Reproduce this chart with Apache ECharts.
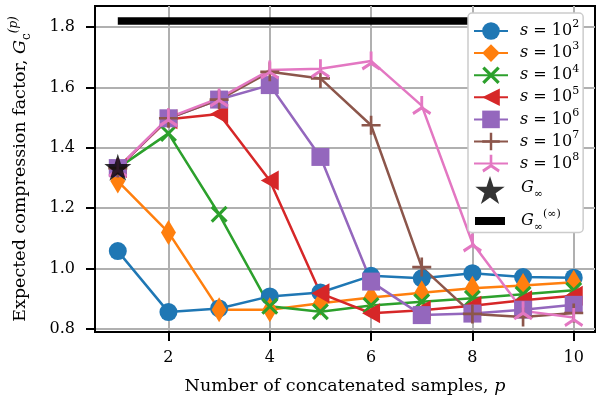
<!DOCTYPE html>
<html><head><meta charset="utf-8">
<script src="https://cdn.jsdelivr.net/npm/echarts@6/dist/echarts.min.js"></script>
<style>html,body{margin:0;padding:0;background:#fff}#c{width:597px;height:401px}</style>
</head><body><div id="c"></div>
<script>
// ---- data ----
const pValues = [1, 2, 3, 4, 5, 6, 7, 8, 9, 10];
const s1e2 = [1.058, 0.856, 0.868, 0.908, 0.921, 0.976, 0.968, 0.985, 0.972, 0.970];
const s1e3 = [1.290, 1.120, 0.864, 0.864, 0.885, 0.904, 0.920, 0.935, 0.944, 0.955];
const s1e4 = [1.333, 1.448, 1.180, 0.875, 0.857, 0.878, 0.890, 0.902, 0.915, 0.928];
const s1e5 = [1.333, 1.495, 1.512, 1.292, 0.918, 0.852, 0.862, 0.877, 0.895, 0.910];
const s1e6 = [1.333, 1.498, 1.560, 1.608, 1.370, 0.957, 0.846, 0.851, 0.864, 0.880];
const s1e7 = [1.333, 1.498, 1.560, 1.652, 1.630, 1.475, 1.005, 0.850, 0.840, 0.853];
const s1e8 = [1.333, 1.500, 1.565, 1.658, 1.662, 1.688, 1.540, 1.085, 0.860, 0.838];
const gInfP = [1];
const gInfV = [1.336];
const gInfInfP = [1, 10];
const gInfInfV = [1.82, 1.82];
const seriesNames = ['s = 10^2', 's = 10^3', 's = 10^4', 's = 10^5', 's = 10^6', 's = 10^7', 's = 10^8'];
const seriesExp = ['2', '3', '4', '5', '6', '7', '8'];
const xTicks = [2, 4, 6, 8, 10];
const yTicks = [0.8, 1.0, 1.2, 1.4, 1.6, 1.8];

// ---- styles ----
const FONT = 'DejaVu Serif';
const colors = ['#1f77b4', '#ff7f0e', '#2ca02c', '#d62728', '#9467bd', '#8c564b', '#e377c2'];

function armsPath(anglesDeg, len, h) {
  const c = len + h;
  let d = '';
  anglesDeg.forEach(a => {
    const r = a * Math.PI / 180;
    const dx = Math.cos(r), dy = Math.sin(r);
    const nx = -dy, ny = dx;
    const sx = c - h * dx, sy = c - h * dy;
    const ex = c + len * dx, ey = c + len * dy;
    const pts = [[sx + h * nx, sy + h * ny], [ex + h * nx, ey + h * ny], [ex - h * nx, ey - h * ny], [sx - h * nx, sy - h * ny]];
    d += 'M' + pts.map(p => p[0].toFixed(3) + ',' + p[1].toFixed(3)).join('L') + 'Z';
  });
  return 'path://' + d;
}
function starPath() {
  const pts = [];
  for (let i = 0; i < 10; i++) {
    const r = (i % 2 === 0) ? 10 : 3.82;
    const a = -Math.PI / 2 + i * Math.PI / 5;
    pts.push([10 + r * Math.cos(a), 10 + r * Math.sin(a)]);
  }
  return 'path://M' + pts.map(p => p[0].toFixed(3) + ',' + p[1].toFixed(3)).join('L') + 'Z';
}
const xMark = armsPath([45, 135, 225, 315], 10, 1.5);
const plusMark = armsPath([0, 90, 180, 270], 10, 1.4);
const triUpMark = armsPath([-90, 30, 150], 10, 1.4);
const STAR = starPath();

const symbols = [
  {symbol: 'circle', size: 18, rotate: 0},
  {symbol: 'diamond', size: [15, 25], rotate: 0},
  {symbol: xMark, size: 17, rotate: 0},
  {symbol: 'triangle', size: [20, 18], rotate: 90},
  {symbol: 'rect', size: 18, rotate: 0},
  {symbol: plusMark, size: 19, rotate: 0},
  {symbol: triUpMark, size: 19, rotate: 0}
];
const allValues = [s1e2, s1e3, s1e4, s1e5, s1e6, s1e7, s1e8];

function makeRich(fs, sfs, lead) {
  return {
    n: {fontFamily: FONT, fontSize: fs, color: '#000', verticalAlign: 'bottom', padding: [0, 0, 4, 0]},
    i: {fontFamily: FONT, fontSize: fs, color: '#000', fontStyle: 'italic', verticalAlign: 'bottom', padding: [0, 0, 4, 0]},
    i0: {fontFamily: FONT, fontSize: fs, color: '#000', fontStyle: 'italic', verticalAlign: 'bottom', padding: [0, 0, 4, lead]},
    sup: {fontFamily: FONT, fontSize: sfs, color: '#000', verticalAlign: 'bottom', padding: [0, 0, 13, 0]},
    supi: {fontFamily: FONT, fontSize: sfs, color: '#000', fontStyle: 'italic', verticalAlign: 'bottom', padding: [0, 0, 13, 0]},
    sub: {fontFamily: FONT, fontSize: sfs, color: '#000', verticalAlign: 'bottom', padding: [0, 0, 0, 0]}
  };
}
const richLegend = makeRich(16, 11, 7);
const richLegend2 = makeRich(16, 11, 11);
const richName = makeRich(17.5, 12, 0);

const series = allValues.map((vals, k) => ({
  name: seriesNames[k],
  type: 'line',
  data: pValues.map((p, j) => [p, vals[j]]),
  symbol: symbols[k].symbol,
  symbolSize: symbols[k].size,
  symbolRotate: symbols[k].rotate,
  showAllSymbol: true,
  color: colors[k],
  lineStyle: {width: 2.5, color: colors[k]},
  itemStyle: {color: colors[k]},
  emphasis: {disabled: true},
  z: 2
}));
series.push({
  name: 'G_inf',
  type: 'scatter',
  data: gInfP.map((p, j) => [p, gInfV[j]]),
  symbol: STAR,
  symbolSize: 27,
  itemStyle: {color: '#000'},
  color: '#000',
  z: 3
});
series.push({
  name: 'G_inf_inf',
  type: 'line',
  data: gInfInfP.map((p, j) => [p, gInfInfV[j]]),
  symbol: 'none',
  lineStyle: {width: 7.5, color: '#000', cap: 'butt'},
  itemStyle: {color: '#000'},
  color: '#000',
  z: 3
});

const legendText = {};
seriesNames.forEach((n, k) => { legendText[n] = '{i0|s}{n| = 10}{sup|' + seriesExp[k] + '}'; });
legendText['G_inf'] = '{i0|G}{sub|∞}';
legendText['G_inf_inf'] = '{i0|G}{sub|∞}{sup|(∞)}';

const chart = echarts.init(document.getElementById('c'), null, {renderer: 'canvas'});
chart.setOption({
  animation: false,
  backgroundColor: '#fff',
  grid: {left: 91, right: 2, top: 6, bottom: 69, show: true, borderColor: '#000', borderWidth: 2, backgroundColor: 'transparent'},
  xAxis: {
    type: 'value', min: 0.55, max: 10.42,
    axisLine: {show: true, lineStyle: {color: '#000', width: 2}},
    axisTick: {show: true, length: 9, inside: false, lineStyle: {color: '#000', width: 2}, customValues: xTicks},
    axisLabel: {customValues: xTicks, fontFamily: FONT, fontSize: 16, color: '#000', margin: 18, formatter: v => String(v)},
    splitLine: {show: true, lineStyle: {color: '#b0b0b0', width: 2}},
    name: '{n|Number of concatenated samples, }{i|p}',
    nameLocation: 'middle', nameGap: 45,
    nameTextStyle: {rich: richName}
  },
  yAxis: {
    type: 'value', min: 0.79, max: 1.87,
    axisLine: {show: true, lineStyle: {color: '#000', width: 2}},
    axisTick: {show: true, length: 9, inside: false, lineStyle: {color: '#000', width: 2}, customValues: yTicks},
    axisLabel: {customValues: yTicks, fontFamily: FONT, fontSize: 16, color: '#000', margin: 20, formatter: v => v.toFixed(1)},
    splitLine: {show: true, lineStyle: {color: '#b0b0b0', width: 2}},
    name: '{n|Expected compression factor, }{i|G}{sub|c}{supi|(p)}',
    nameLocation: 'middle', nameGap: 62,
    nameTextStyle: {rich: richName}
  },
  legend: [{
    orient: 'vertical', left: 468, top: 13,
    padding: [6, 4, 60, 5],
    itemWidth: 34, itemHeight: 22, itemGap: 1.3, itemTextGap: 12,
    backgroundColor: '#fff', borderColor: '#cccccc', borderWidth: 1.5, borderRadius: 4,
    selectedMode: false,
    textStyle: {fontFamily: FONT, fontSize: 16, color: '#000', rich: richLegend},
    formatter: name => legendText[name],
    data: seriesNames
  }, {
    orient: 'vertical', left: 475, top: 176,
    padding: 0,
    itemWidth: 30, itemHeight: 28, itemGap: 5, itemTextGap: 12,
    selectedMode: false,
    z: 5,
    textStyle: {fontFamily: FONT, fontSize: 16, color: '#000', rich: richLegend2},
    formatter: name => legendText[name],
    data: [
      {name: 'G_inf'},
      {name: 'G_inf_inf', icon: 'path://M0,0H30V8H0Z', itemStyle: {color: '#000'}}
    ]
  }],
  series: series
});
</script>
</body></html>
